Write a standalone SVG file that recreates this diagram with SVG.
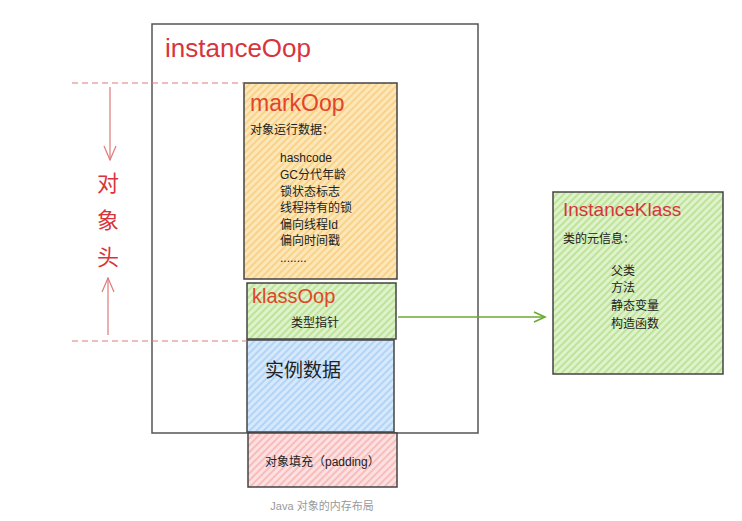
<svg xmlns="http://www.w3.org/2000/svg" width="742" height="521" viewBox="0 0 742 521">
<style>
text{font-family:"Liberation Sans","Noto Sans CJK SC",sans-serif;}
.box{stroke:#444;stroke-width:1.5;}
.dash{stroke:#e07a7a;stroke-width:1.2;stroke-dasharray:6 4;fill:none;}
.red{fill:#d8343c;}
.orange{fill:#e2452b;}
.t12{font-size:12px;fill:#222;}
</style>
<defs>
<pattern id="pOrange" width="5" height="5" patternUnits="userSpaceOnUse" patternTransform="rotate(45)">
<rect width="5" height="5" fill="#fde6b8"/><line x1="1" y1="0" x2="1" y2="5" stroke="#f8cd7d" stroke-width="1.6"/></pattern>
<pattern id="pGreen" width="5" height="5" patternUnits="userSpaceOnUse" patternTransform="rotate(45)">
<rect width="5" height="5" fill="#def2cb"/><line x1="1" y1="0" x2="1" y2="5" stroke="#b6e08c" stroke-width="1.6"/></pattern>
<pattern id="pBlue" width="5" height="5" patternUnits="userSpaceOnUse" patternTransform="rotate(45)">
<rect width="5" height="5" fill="#d6e8fb"/><line x1="1" y1="0" x2="1" y2="5" stroke="#a9cff5" stroke-width="1.6"/></pattern>
<pattern id="pPink" width="5" height="5" patternUnits="userSpaceOnUse" patternTransform="rotate(45)">
<rect width="5" height="5" fill="#fde0e0"/><line x1="1" y1="0" x2="1" y2="5" stroke="#f7b3b3" stroke-width="1.6"/></pattern>
<marker id="arrGreen" markerWidth="14" markerHeight="12" refX="12" refY="6" orient="auto" markerUnits="userSpaceOnUse">
<path d="M1,1 L12,6 L1,11" fill="none" stroke="#6aab2e" stroke-width="1.6"/></marker>
<marker id="arrRed" markerWidth="16" markerHeight="14" refX="15" refY="7" orient="auto" markerUnits="userSpaceOnUse">
<path d="M1,1 L15,7 L1,13" fill="none" stroke="#e07a7a" stroke-width="1.2"/></marker>
</defs>

<g id="instanceOop">
<rect x="152" y="24" width="326" height="409" fill="#fff" stroke="#555" stroke-width="1.5"/>
<text x="165" y="57" class="red" font-size="26">instanceOop</text>
</g>

<g id="markOop">
<rect x="244" y="83" width="153" height="196" fill="url(#pOrange)" class="box"/>
<text x="250" y="111" class="orange" font-size="23">markOop</text>
<text x="250" y="134" class="t12">对象运行数据：</text>
<text x="280" y="162" class="t12">hashcode</text>
<text x="280" y="179" class="t12">GC分代年龄</text>
<text x="280" y="196" class="t12">锁状态标志</text>
<text x="280" y="212" class="t12">线程持有的锁</text>
<text x="280" y="229" class="t12">偏向线程Id</text>
<text x="280" y="245" class="t12">偏向时间戳</text>
<text x="280" y="262" class="t12">........</text>
</g>

<g id="klassOop">
<rect x="247" y="283" width="149" height="56" fill="url(#pGreen)" class="box"/>
<text x="252" y="303" class="orange" font-size="20">klassOop</text>
<text x="315" y="327" class="t12" text-anchor="middle">类型指针</text>
</g>

<g id="instanceData">
<rect x="247" y="340" width="147" height="92" fill="url(#pBlue)" class="box"/>
<text x="265" y="377" font-size="19" fill="#222">实例数据</text>
</g>

<g id="padding">
<rect x="248" y="433" width="149" height="54" fill="url(#pPink)" class="box"/>
<text x="265" y="466" class="t12">对象填充（padding）</text>
</g>

<g id="InstanceKlass">
<rect x="553" y="192" width="170" height="182" fill="url(#pGreen)" class="box"/>
<text x="563" y="216" class="red" font-size="19">InstanceKlass</text>
<text x="563" y="243" class="t12">类的元信息：</text>
<text x="611" y="275" class="t12">父类</text>
<text x="611" y="292" class="t12">方法</text>
<text x="611" y="310" class="t12">静态变量</text>
<text x="611" y="328" class="t12">构造函数</text>
</g>

<g id="headerLabel">
<text x="108" y="191" font-size="22" fill="#d8343c" text-anchor="middle">对</text>
<text x="108" y="228" font-size="22" fill="#d8343c" text-anchor="middle">象</text>
<text x="108" y="265" font-size="22" fill="#d8343c" text-anchor="middle">头</text>
</g>

<g id="connectors">
<line x1="72" y1="83" x2="244" y2="83" class="dash"/>
<line x1="72" y1="341" x2="247" y2="341" class="dash"/>
<line x1="110" y1="87" x2="110" y2="160" stroke="#e07a7a" stroke-width="1.2" marker-end="url(#arrRed)"/>
<line x1="108" y1="335" x2="108" y2="278" stroke="#e07a7a" stroke-width="1.2" marker-end="url(#arrRed)"/>
<line x1="398" y1="317" x2="545" y2="317" stroke="#6aab2e" stroke-width="1.6" marker-end="url(#arrGreen)"/>
</g>

<text x="322" y="510" font-size="11" fill="#999" text-anchor="middle">Java 对象的内存布局</text>
</svg>
